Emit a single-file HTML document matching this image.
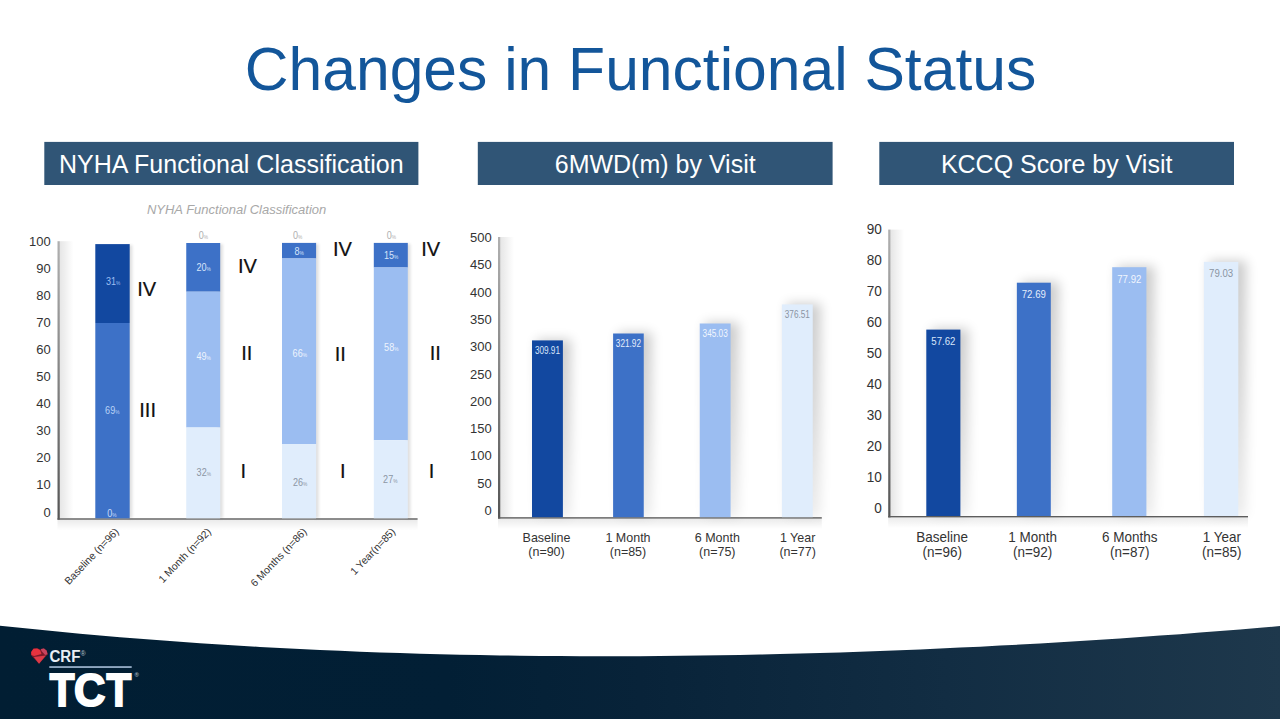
<!DOCTYPE html>
<html><head><meta charset="utf-8"><title>Changes in Functional Status</title>
<style>html,body{margin:0;padding:0;background:#fff;}body{width:1280px;height:719px;overflow:hidden;}svg{display:block;}</style>
</head><body>
<svg width="1280" height="719" viewBox="0 0 1280 719" font-family="'Liberation Sans', Arial, sans-serif"><defs>
<linearGradient id="foot" x1="0" y1="0" x2="1" y2="0">
<stop offset="0" stop-color="#011e33"/><stop offset="0.35" stop-color="#021f35"/><stop offset="0.5" stop-color="#082339"/><stop offset="0.74" stop-color="#122d43"/><stop offset="1" stop-color="#1e384c"/>
</linearGradient>
<linearGradient id="vaxis" x1="0" y1="0" x2="0" y2="1">
<stop offset="0" stop-color="#b0b0b0"/><stop offset="1" stop-color="#555"/>
</linearGradient>
<linearGradient id="vshadow" x1="0" y1="0" x2="1" y2="0">
<stop offset="0" stop-color="#000" stop-opacity="0.10"/><stop offset="1" stop-color="#000" stop-opacity="0"/>
</linearGradient>
<linearGradient id="hshadow" x1="0" y1="0" x2="0" y2="1">
<stop offset="0" stop-color="#000" stop-opacity="0.08"/><stop offset="1" stop-color="#000" stop-opacity="0"/>
</linearGradient>
<linearGradient id="shg" x1="0" y1="0" x2="0" y2="1">
<stop offset="0" stop-color="#000" stop-opacity="1"/><stop offset="0.5" stop-color="#000" stop-opacity="0.75"/><stop offset="1" stop-color="#000" stop-opacity="0.35"/>
</linearGradient>
<filter id="bshw" x="-100%" y="-20%" width="300%" height="140%">
<feGaussianBlur stdDeviation="6"/>
</filter>
<filter id="bshn" x="-200%" y="-20%" width="500%" height="140%">
<feGaussianBlur stdDeviation="1.5"/>
</filter>
</defs>
<path d="M0 719 L0.0 625.64 L20.0 627.79 L40.0 629.84 L60.0 631.81 L80.0 633.69 L100.0 635.48 L120.0 637.20 L140.0 638.82 L160.0 640.37 L180.0 641.84 L200.0 643.23 L220.0 644.55 L240.0 645.78 L260.0 646.94 L280.0 648.03 L300.0 649.05 L320.0 649.99 L340.0 650.87 L360.0 651.67 L380.0 652.41 L400.0 653.08 L420.0 653.68 L440.0 654.22 L460.0 654.69 L480.0 655.10 L500.0 655.44 L520.0 655.73 L540.0 655.95 L560.0 656.11 L580.0 656.21 L600.0 656.26 L620.0 656.24 L640.0 656.17 L660.0 656.04 L680.0 655.86 L700.0 655.62 L720.0 655.32 L740.0 654.97 L760.0 654.56 L780.0 654.10 L800.0 653.59 L820.0 653.03 L840.0 652.41 L860.0 651.74 L880.0 651.02 L900.0 650.25 L920.0 649.42 L940.0 648.55 L960.0 647.62 L980.0 646.65 L1000.0 645.62 L1020.0 644.55 L1040.0 643.42 L1060.0 642.24 L1080.0 641.02 L1100.0 639.74 L1120.0 638.42 L1140.0 637.04 L1160.0 635.62 L1180.0 634.15 L1200.0 632.62 L1220.0 631.05 L1240.0 629.43 L1260.0 627.75 L1280.0 626.03 L1280 719 Z" fill="url(#foot)"/>
<text font-size="60.6" fill="#13569a" text-anchor="middle" transform="translate(640.50 90.30) scale(1.0 1.02)">Changes in Functional Status</text>
<rect x="44.30" y="141.90" width="374.10" height="43.10" fill="#305576"/>
<text font-size="25" fill="#ffffff" text-anchor="middle" transform="translate(231.35 172.80) scale(1.0 1.02)">NYHA Functional Classification</text>
<rect x="477.80" y="141.90" width="354.80" height="43.10" fill="#305576"/>
<text font-size="25" fill="#ffffff" text-anchor="middle" transform="translate(655.20 172.80) scale(1.0 1.02)">6MWD(m) by Visit</text>
<rect x="879.30" y="141.90" width="354.70" height="43.10" fill="#305576"/>
<text font-size="25" fill="#ffffff" text-anchor="middle" transform="translate(1056.65 172.80) scale(1.0 1.02)">KCCQ Score by Visit</text>
<text font-size="13" fill="#a8a8a8" text-anchor="middle" font-style="italic" transform="translate(236.60 213.90) scale(1.0 1.02)">NYHA Functional Classification</text>
<text font-size="13" fill="#333" text-anchor="end" transform="translate(50.80 246.30) scale(1.0 1.02)">100</text>
<text font-size="13" fill="#333" text-anchor="end" transform="translate(50.80 273.32) scale(1.0 1.02)">90</text>
<text font-size="13" fill="#333" text-anchor="end" transform="translate(50.80 300.34) scale(1.0 1.02)">80</text>
<text font-size="13" fill="#333" text-anchor="end" transform="translate(50.80 327.36) scale(1.0 1.02)">70</text>
<text font-size="13" fill="#333" text-anchor="end" transform="translate(50.80 354.38) scale(1.0 1.02)">60</text>
<text font-size="13" fill="#333" text-anchor="end" transform="translate(50.80 381.40) scale(1.0 1.02)">50</text>
<text font-size="13" fill="#333" text-anchor="end" transform="translate(50.80 408.42) scale(1.0 1.02)">40</text>
<text font-size="13" fill="#333" text-anchor="end" transform="translate(50.80 435.44) scale(1.0 1.02)">30</text>
<text font-size="13" fill="#333" text-anchor="end" transform="translate(50.80 462.46) scale(1.0 1.02)">20</text>
<text font-size="13" fill="#333" text-anchor="end" transform="translate(50.80 489.48) scale(1.0 1.02)">10</text>
<text font-size="13" fill="#333" text-anchor="end" transform="translate(50.80 516.50) scale(1.0 1.02)">0</text>
<rect x="127.70" y="245.10" width="4.5" height="273.20" fill="#000" opacity="0.13" filter="url(#bshn)"/>
<rect x="218.20" y="244.00" width="4.5" height="274.30" fill="#000" opacity="0.13" filter="url(#bshn)"/>
<rect x="314.10" y="243.90" width="4.5" height="274.40" fill="#000" opacity="0.13" filter="url(#bshn)"/>
<rect x="405.80" y="243.90" width="4.5" height="274.40" fill="#000" opacity="0.13" filter="url(#bshn)"/>
<rect x="59.80" y="241.20" width="13.70" height="277.10" fill="url(#vshadow)"/>
<rect x="57.50" y="519.70" width="360.10" height="10.60" fill="url(#hshadow)"/>
<rect x="57.50" y="241.20" width="2.30" height="278.50" fill="url(#vaxis)"/>
<rect x="57.50" y="518.30" width="360.10" height="1.40" fill="#5d5d5d"/>
<rect x="95.30" y="244.10" width="34.40" height="78.90" fill="#1248a0"/>
<rect x="95.30" y="323.00" width="34.40" height="195.30" fill="#3d71c7"/>
<rect x="186.25" y="243.00" width="33.95" height="48.70" fill="#3d71c7"/>
<rect x="186.25" y="291.70" width="33.95" height="135.80" fill="#9bbdf1"/>
<rect x="186.25" y="427.50" width="33.95" height="90.80" fill="#e0edfc"/>
<rect x="282.00" y="242.90" width="34.10" height="15.60" fill="#3d71c7"/>
<rect x="282.00" y="258.50" width="34.10" height="185.50" fill="#9bbdf1"/>
<rect x="282.00" y="444.00" width="34.10" height="74.30" fill="#e0edfc"/>
<rect x="373.80" y="242.90" width="34.00" height="24.60" fill="#3d71c7"/>
<rect x="373.80" y="267.50" width="34.00" height="172.70" fill="#9bbdf1"/>
<rect x="373.80" y="440.20" width="34.00" height="78.10" fill="#e0edfc"/>
<text font-size="10.3" fill="#9dbff2" text-anchor="middle" transform="translate(113.10 284.60) scale(0.88 1.03)">31<tspan font-size="5.5">%</tspan></text>
<text font-size="10.3" fill="#b9d2f6" text-anchor="middle" transform="translate(112.30 414.40) scale(0.88 1.03)">69<tspan font-size="5.5">%</tspan></text>
<text font-size="10.3" fill="#c6dbf8" text-anchor="middle" transform="translate(112.00 517.10) scale(0.88 1.03)">0<tspan font-size="5.5">%</tspan></text>
<text font-size="10.3" fill="#b0b0b0" text-anchor="middle" transform="translate(203.30 239.10) scale(0.88 1.03)">0<tspan font-size="5.5">%</tspan></text>
<text font-size="10.3" fill="#d6e4fa" text-anchor="middle" transform="translate(203.70 270.80) scale(0.88 1.03)">20<tspan font-size="5.5">%</tspan></text>
<text font-size="10.3" fill="#eef4fd" text-anchor="middle" transform="translate(203.70 360.00) scale(0.88 1.03)">49<tspan font-size="5.5">%</tspan></text>
<text font-size="10.3" fill="#8c96a4" text-anchor="middle" transform="translate(203.80 476.40) scale(0.88 1.03)">32<tspan font-size="5.5">%</tspan></text>
<text font-size="10.3" fill="#b0b0b0" text-anchor="middle" transform="translate(297.70 239.10) scale(0.88 1.03)">0<tspan font-size="5.5">%</tspan></text>
<text font-size="10.3" fill="#d6e4fa" text-anchor="middle" transform="translate(299.10 254.70) scale(0.88 1.03)">8<tspan font-size="5.5">%</tspan></text>
<text font-size="10.3" fill="#eef4fd" text-anchor="middle" transform="translate(299.80 357.05) scale(0.88 1.03)">66<tspan font-size="5.5">%</tspan></text>
<text font-size="10.3" fill="#8c96a4" text-anchor="middle" transform="translate(300.10 486.00) scale(0.88 1.03)">26<tspan font-size="5.5">%</tspan></text>
<text font-size="10.3" fill="#b0b0b0" text-anchor="middle" transform="translate(391.30 239.10) scale(0.88 1.03)">0<tspan font-size="5.5">%</tspan></text>
<text font-size="10.3" fill="#d6e4fa" text-anchor="middle" transform="translate(391.20 259.00) scale(0.88 1.03)">15<tspan font-size="5.5">%</tspan></text>
<text font-size="10.3" fill="#eef4fd" text-anchor="middle" transform="translate(391.30 351.10) scale(0.88 1.03)">58<tspan font-size="5.5">%</tspan></text>
<text font-size="10.3" fill="#8c96a4" text-anchor="middle" transform="translate(390.30 482.90) scale(0.88 1.03)">27<tspan font-size="5.5">%</tspan></text>
<text font-size="19.3" fill="#111" transform="translate(137.25 296.20) scale(1.04 1.02)" stroke="#111" stroke-width="0.2">IV</text>
<text font-size="19.3" fill="#111" transform="translate(238.05 273.20) scale(1.04 1.02)" stroke="#111" stroke-width="0.2">IV</text>
<text font-size="19.3" fill="#111" transform="translate(333.05 255.70) scale(1.04 1.02)" stroke="#111" stroke-width="0.2">IV</text>
<text font-size="19.3" fill="#111" transform="translate(421.25 255.50) scale(1.04 1.02)" stroke="#111" stroke-width="0.2">IV</text>
<text font-size="19.3" fill="#111" transform="translate(139.25 416.70) scale(1.04 1.02)" stroke="#111" stroke-width="0.2">III</text>
<text font-size="19.3" fill="#111" transform="translate(241.15 360.40) scale(1.04 1.02)" stroke="#111" stroke-width="0.2">II</text>
<text font-size="19.3" fill="#111" transform="translate(334.75 360.60) scale(1.04 1.02)" stroke="#111" stroke-width="0.2">II</text>
<text font-size="19.3" fill="#111" transform="translate(429.65 359.80) scale(1.04 1.02)" stroke="#111" stroke-width="0.2">II</text>
<text font-size="19.3" fill="#111" transform="translate(240.45 478.20) scale(1.04 1.02)" stroke="#111" stroke-width="0.2">I</text>
<text font-size="19.3" fill="#111" transform="translate(339.95 477.90) scale(1.04 1.02)" stroke="#111" stroke-width="0.2">I</text>
<text font-size="19.3" fill="#111" transform="translate(428.65 477.90) scale(1.04 1.02)" stroke="#111" stroke-width="0.2">I</text>
<text font-size="10.4" fill="#333" text-anchor="end" transform="translate(119.29 532.23) rotate(-46.4)">Baseline (n=96)</text>
<text font-size="10.4" fill="#333" text-anchor="end" transform="translate(211.69 532.23) rotate(-46.4)">1 Month (n=92)</text>
<text font-size="10.4" fill="#333" text-anchor="end" transform="translate(307.44 532.23) rotate(-46.4)">6 Months (n=86)</text>
<text font-size="10.4" fill="#333" text-anchor="end" transform="translate(395.99 532.23) rotate(-46.4)">1 Year(n=85)</text>
<text font-size="13" fill="#333" text-anchor="end" transform="translate(491.80 242.10) scale(1.0 1.02)">500</text>
<text font-size="13" fill="#333" text-anchor="end" transform="translate(491.80 269.39) scale(1.0 1.02)">450</text>
<text font-size="13" fill="#333" text-anchor="end" transform="translate(491.80 296.68) scale(1.0 1.02)">400</text>
<text font-size="13" fill="#333" text-anchor="end" transform="translate(491.80 323.97) scale(1.0 1.02)">350</text>
<text font-size="13" fill="#333" text-anchor="end" transform="translate(491.80 351.26) scale(1.0 1.02)">300</text>
<text font-size="13" fill="#333" text-anchor="end" transform="translate(491.80 378.55) scale(1.0 1.02)">250</text>
<text font-size="13" fill="#333" text-anchor="end" transform="translate(491.80 405.84) scale(1.0 1.02)">200</text>
<text font-size="13" fill="#333" text-anchor="end" transform="translate(491.80 433.13) scale(1.0 1.02)">150</text>
<text font-size="13" fill="#333" text-anchor="end" transform="translate(491.80 460.42) scale(1.0 1.02)">100</text>
<text font-size="13" fill="#333" text-anchor="end" transform="translate(491.80 487.71) scale(1.0 1.02)">50</text>
<text font-size="13" fill="#333" text-anchor="end" transform="translate(491.80 515.00) scale(1.0 1.02)">0</text>
<rect x="537.00" y="339.40" width="33.90" height="177.80" fill="url(#shg)" opacity="0.2" filter="url(#bshw)"/>
<rect x="618.10" y="332.50" width="33.65" height="184.70" fill="url(#shg)" opacity="0.2" filter="url(#bshw)"/>
<rect x="704.75" y="322.50" width="33.85" height="194.70" fill="url(#shg)" opacity="0.2" filter="url(#bshw)"/>
<rect x="786.90" y="303.40" width="33.85" height="213.80" fill="url(#shg)" opacity="0.2" filter="url(#bshw)"/>
<rect x="500.30" y="237.00" width="13.70" height="280.20" fill="url(#vshadow)"/>
<rect x="498.00" y="518.60" width="323.80" height="10.60" fill="url(#hshadow)"/>
<rect x="498.00" y="237.00" width="2.30" height="281.60" fill="url(#vaxis)"/>
<rect x="498.00" y="517.20" width="323.80" height="1.40" fill="#5d5d5d"/>
<rect x="532.00" y="340.40" width="30.90" height="176.80" fill="#1248a0"/>
<text font-size="9.8" fill="#d9e6fa" text-anchor="middle" transform="translate(547.45 354.00) scale(0.84 1.02)">309.91</text>
<rect x="613.10" y="333.50" width="30.65" height="183.70" fill="#3d71c7"/>
<text font-size="9.8" fill="#e3edfb" text-anchor="middle" transform="translate(628.42 347.10) scale(0.84 1.02)">321.92</text>
<rect x="699.75" y="323.50" width="30.85" height="193.70" fill="#9bbdf1"/>
<text font-size="9.8" fill="#f1f6fe" text-anchor="middle" transform="translate(715.17 337.10) scale(0.84 1.02)">345.03</text>
<rect x="781.90" y="304.40" width="30.85" height="212.80" fill="#e0edfc"/>
<text font-size="9.8" fill="#8a94a2" text-anchor="middle" transform="translate(797.33 318.00) scale(0.84 1.02)">376.51</text>
<text font-size="12.5" fill="#333" text-anchor="middle" transform="translate(546.50 541.80) scale(1.0 1.02)">Baseline</text>
<text font-size="12.5" fill="#333" text-anchor="middle" transform="translate(546.50 555.90) scale(1.0 1.02)">(n=90)</text>
<text font-size="12.5" fill="#333" text-anchor="middle" transform="translate(628.00 541.80) scale(1.0 1.02)">1 Month</text>
<text font-size="12.5" fill="#333" text-anchor="middle" transform="translate(628.00 555.90) scale(1.0 1.02)">(n=85)</text>
<text font-size="12.5" fill="#333" text-anchor="middle" transform="translate(717.30 541.80) scale(1.0 1.02)">6 Month</text>
<text font-size="12.5" fill="#333" text-anchor="middle" transform="translate(717.30 555.90) scale(1.0 1.02)">(n=75)</text>
<text font-size="12.5" fill="#333" text-anchor="middle" transform="translate(797.60 541.80) scale(1.0 1.02)">1 Year</text>
<text font-size="12.5" fill="#333" text-anchor="middle" transform="translate(797.60 555.90) scale(1.0 1.02)">(n=77)</text>
<text font-size="13.6" fill="#333" text-anchor="end" transform="translate(881.90 233.90) scale(1.0 1.02)">90</text>
<text font-size="13.6" fill="#333" text-anchor="end" transform="translate(881.90 264.92) scale(1.0 1.02)">80</text>
<text font-size="13.6" fill="#333" text-anchor="end" transform="translate(881.90 295.94) scale(1.0 1.02)">70</text>
<text font-size="13.6" fill="#333" text-anchor="end" transform="translate(881.90 326.96) scale(1.0 1.02)">60</text>
<text font-size="13.6" fill="#333" text-anchor="end" transform="translate(881.90 357.98) scale(1.0 1.02)">50</text>
<text font-size="13.6" fill="#333" text-anchor="end" transform="translate(881.90 389.00) scale(1.0 1.02)">40</text>
<text font-size="13.6" fill="#333" text-anchor="end" transform="translate(881.90 420.02) scale(1.0 1.02)">30</text>
<text font-size="13.6" fill="#333" text-anchor="end" transform="translate(881.90 451.04) scale(1.0 1.02)">20</text>
<text font-size="13.6" fill="#333" text-anchor="end" transform="translate(881.90 482.06) scale(1.0 1.02)">10</text>
<text font-size="13.6" fill="#333" text-anchor="end" transform="translate(881.90 513.08) scale(1.0 1.02)">0</text>
<rect x="931.30" y="328.60" width="37.10" height="187.40" fill="url(#shg)" opacity="0.2" filter="url(#bshw)"/>
<rect x="1021.85" y="281.70" width="36.95" height="234.30" fill="url(#shg)" opacity="0.2" filter="url(#bshw)"/>
<rect x="1117.20" y="266.20" width="37.20" height="249.80" fill="url(#shg)" opacity="0.2" filter="url(#bshw)"/>
<rect x="1208.90" y="260.90" width="37.40" height="255.10" fill="url(#shg)" opacity="0.2" filter="url(#bshw)"/>
<rect x="890.50" y="229.60" width="13.70" height="286.40" fill="url(#vshadow)"/>
<rect x="888.20" y="517.40" width="359.80" height="10.60" fill="url(#hshadow)"/>
<rect x="888.20" y="229.60" width="2.30" height="287.80" fill="url(#vaxis)"/>
<rect x="888.20" y="516.00" width="359.80" height="1.40" fill="#5d5d5d"/>
<rect x="926.30" y="329.60" width="34.10" height="186.40" fill="#1248a0"/>
<text font-size="10.5" fill="#d9e6fa" text-anchor="middle" transform="translate(943.35 345.10) scale(0.92 1.02)">57.62</text>
<rect x="1016.85" y="282.70" width="33.95" height="233.30" fill="#3d71c7"/>
<text font-size="10.5" fill="#e3edfb" text-anchor="middle" transform="translate(1033.83 298.20) scale(0.92 1.02)">72.69</text>
<rect x="1112.20" y="267.20" width="34.20" height="248.80" fill="#9bbdf1"/>
<text font-size="10.5" fill="#f1f6fe" text-anchor="middle" transform="translate(1129.30 282.70) scale(0.92 1.02)">77.92</text>
<rect x="1203.90" y="261.90" width="34.40" height="254.10" fill="#e0edfc"/>
<text font-size="10.5" fill="#8a94a2" text-anchor="middle" transform="translate(1221.10 277.40) scale(0.92 1.02)">79.03</text>
<text font-size="13.5" fill="#333" text-anchor="middle" transform="translate(942.20 542.40) scale(1.0 1.02)">Baseline</text>
<text font-size="13.5" fill="#333" text-anchor="middle" transform="translate(942.20 556.80) scale(1.0 1.02)">(n=96)</text>
<text font-size="13.5" fill="#333" text-anchor="middle" transform="translate(1032.60 542.40) scale(1.0 1.02)">1 Month</text>
<text font-size="13.5" fill="#333" text-anchor="middle" transform="translate(1032.60 556.80) scale(1.0 1.02)">(n=92)</text>
<text font-size="13.5" fill="#333" text-anchor="middle" transform="translate(1129.80 542.40) scale(1.0 1.02)">6 Months</text>
<text font-size="13.5" fill="#333" text-anchor="middle" transform="translate(1129.80 556.80) scale(1.0 1.02)">(n=87)</text>
<text font-size="13.5" fill="#333" text-anchor="middle" transform="translate(1221.80 542.40) scale(1.0 1.02)">1 Year</text>
<text font-size="13.5" fill="#333" text-anchor="middle" transform="translate(1221.80 556.80) scale(1.0 1.02)">(n=85)</text>
<g><path d="M31.2 652.6 L33.4 648.6 L37.2 648.2 L40.6 649.6 L43.9 648.2 L46.8 650.6 L47.7 654.2 L45.9 656.2 L39.1 663.8 L32.8 657.2 L31 655 Z" fill="#7c1a2a"/><path d="M31.1 652.0 L33.5 648.7 L37.2 648.4 L40.2 650.2 L41.5 653.9 L34.1 656.0 L31.4 655.1 Z" fill="#e5333f"/><path d="M40.9 649.0 L43.9 648.4 L46.7 650.8 L47.6 654.2 L45.1 655.1 L41.5 651.1 Z" fill="#c9435e"/><path d="M33.8 656.9 L45.8 655.6 L39.0 663.7 Z" fill="#db3a48"/></g>
<text font-size="16.2" fill="#e9eef3" font-weight="bold" transform="translate(49.40 661.80) scale(0.93 1.02)">CRF</text>
<text font-size="7" fill="#b8c4d0" transform="translate(80.60 656.20) scale(1.0 1.02)">®</text>
<rect x="49.30" y="666.10" width="82.40" height="1.90" fill="#8ea6bf"/>
<text font-size="46.7" fill="#ffffff" font-weight="bold" transform="translate(49.86 705.60) scale(0.8653 1.0)" stroke="#ffffff" stroke-width="2.0" stroke-linejoin="miter">T</text>
<text font-size="46.7" fill="#ffffff" font-weight="bold" transform="translate(74.12 705.60) scale(0.9299 1.0)" stroke="#ffffff" stroke-width="2.0" stroke-linejoin="miter">C</text>
<text font-size="46.7" fill="#ffffff" font-weight="bold" transform="translate(106.46 705.60) scale(0.8653 1.0)" stroke="#ffffff" stroke-width="2.0" stroke-linejoin="miter">T</text>
<text font-size="6" fill="#c8d2dc" transform="translate(134.50 677.00) scale(1.0 1.02)">®</text></svg>
</body></html>
